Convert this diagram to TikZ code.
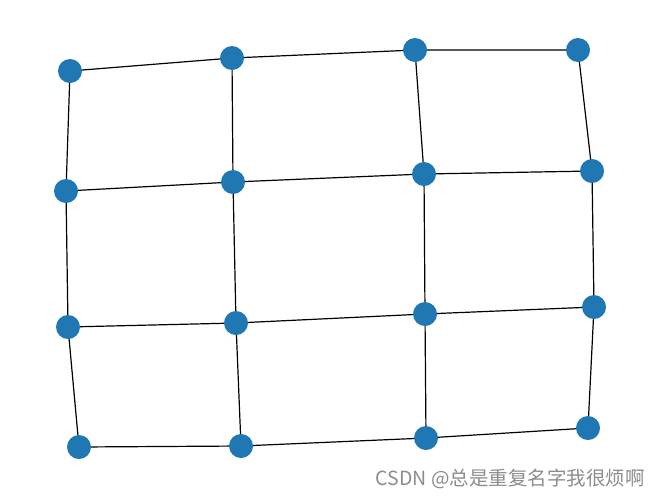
\documentclass[tikz,border=0pt]{standalone}
\usepackage{fontspec}
\newfontfamily\cjk{Noto Sans CJK SC}
\definecolor{nodeblue}{HTML}{1F77B4}
\tikzset{
  vert/.style={circle, fill=nodeblue, minimum size=24pt, inner sep=0pt},
  edge/.style={line width=1.2pt, black}
}
\begin{document}
\begin{tikzpicture}[x=1pt, y=-1pt]
    \useasboundingbox (0,0) rectangle (660,499);
        % edges first, nodes on top
        \path (70,71) coordinate (p00);
        \path (232,58) coordinate (p01);
        \path (415,50) coordinate (p02);
        \path (578,50) coordinate (p03);
        \path (66,191) coordinate (p10);
        \path (233,182) coordinate (p11);
        \path (424,174) coordinate (p12);
        \path (592,171) coordinate (p13);
        \path (68,327) coordinate (p20);
        \path (236,323) coordinate (p21);
        \path (425,314) coordinate (p22);
        \path (594,307) coordinate (p23);
        \path (79,447) coordinate (p30);
        \path (241,446) coordinate (p31);
        \path (426,438) coordinate (p32);
        \path (588,428) coordinate (p33);
        \draw[edge] (p00) -- (p01) -- (p02) -- (p03);
        \draw[edge] (p10) -- (p11) -- (p12) -- (p13);
        \draw[edge] (p20) -- (p21) -- (p22) -- (p23);
        \draw[edge] (p30) -- (p31) -- (p32) -- (p33);
        \draw[edge] (p00) -- (p10) -- (p20) -- (p30);
        \draw[edge] (p01) -- (p11) -- (p21) -- (p31);
        \draw[edge] (p02) -- (p12) -- (p22) -- (p32);
        \draw[edge] (p03) -- (p13) -- (p23) -- (p33);
        \node[vert] (n00) at (p00) {};
        \node[vert] (n01) at (p01) {};
        \node[vert] (n02) at (p02) {};
        \node[vert] (n03) at (p03) {};
        \node[vert] (n10) at (p10) {};
        \node[vert] (n11) at (p11) {};
        \node[vert] (n12) at (p12) {};
        \node[vert] (n13) at (p13) {};
        \node[vert] (n20) at (p20) {};
        \node[vert] (n21) at (p21) {};
        \node[vert] (n22) at (p22) {};
        \node[vert] (n23) at (p23) {};
        \node[vert] (n30) at (p30) {};
        \node[vert] (n31) at (p31) {};
        \node[vert] (n32) at (p32) {};
        \node[vert] (n33) at (p33) {};
        \node[anchor=east, inner sep=0pt, text=black!45, font=\cjk\fontsize{19.5}{22}\selectfont] (mark) at (645,479) {CSDN @总是重复名字我很烦啊};
    \end{tikzpicture}
\end{document}
